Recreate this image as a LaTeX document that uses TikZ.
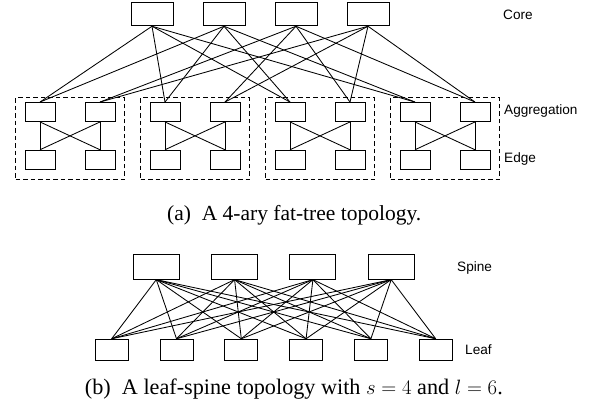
\documentclass[tikz,border=0pt]{standalone}
\usepackage[no-math]{fontspec}
\setmainfont{Liberation Serif}
\setsansfont{Liberation Sans}
\begin{document}
\begin{tikzpicture}[x=1pt,y=-1pt,
  sw/.style={draw,line width=0.9pt,inner sep=0pt,fill=white},
  corebox/.style={sw,minimum width=42pt,minimum height=23pt},
  podbox/.style={sw,minimum width=30pt,minimum height=19pt},
  spinebox/.style={sw,minimum width=46pt,minimum height=25pt},
  leafbox/.style={sw,minimum width=33pt,minimum height=21pt},
  podframe/.style={draw,line width=1pt,dash pattern=on 4.5pt off 3pt,inner sep=0pt,
    minimum width=109pt,minimum height=81.6pt},
  link/.style={line width=0.85pt},
  layer/.style={font=\sffamily\fontsize{13.6}{16}\selectfont,inner sep=0pt,anchor=base west},
  captext/.style={inner sep=0pt,anchor=base}]
\useasboundingbox (0,0) rectangle (595,406);

% ---- fat-tree ----
\foreach \p in {0,...,3}{
  \node[podframe] (pod\p) at ({70+125*\p},138.5) {};
}
\foreach \c in {0,...,3}{
  \node[corebox] (core\c) at ({152+72*\c},14.3) {};
}
\foreach \p in {0,...,3}{
  \foreach \a in {0,1}{
    \node[podbox] (agg\p\a) at ({40+125*\p+60*\a},112) {};
    \node[podbox] (edge\p\a) at ({40+125*\p+60*\a},159.7) {};
  }
}
% core to aggregation links
\foreach \c/\a in {0/0,1/0,2/1,3/1}{
  \foreach \p in {0,...,3}{
    \draw[link] (core\c.south) -- (agg\p\a.north);
  }
}
% aggregation to edge links inside each pod
\foreach \p in {0,...,3}{
  \foreach \a in {0,1}{
    \foreach \e in {0,1}{
      \draw[link] (agg\p\a.south) -- (edge\p\e.north);
    }
  }
}

\node[layer] (lcore) at (503,20) {Core};
\node[layer] (lagg) at (504,114.5) {Aggregation};
\node[layer] (ledge) at (504,163) {Edge};
\node[captext,font=\fontsize{21.5}{26}\selectfont] (capa) at (294.2,220.5)
  {(a)\enspace A 4-ary fat-tree topology.};

% ---- leaf-spine ----
\foreach \s in {0,...,3}{
  \node[spinebox] (spine\s) at ({156.3+78.3*\s},266.7) {};
}
\foreach \l in {0,...,5}{
  \node[leafbox] (leaf\l) at ({111.7+64.8*\l},349.7) {};
}
\foreach \s in {0,...,3}{
  \foreach \l in {0,...,5}{
    \draw[link] (spine\s.south) -- (leaf\l.north);
  }
}
\node[layer] (lspine) at (457,271.5) {Spine};
\node[layer] (lleaf) at (465,355) {Leaf};
\node[captext,font=\fontsize{22.2}{26}\selectfont] (capb) at (293.9,394.5)
  {(b)\enspace A leaf-spine topology with $s=4$ and $l=6$.};
\end{tikzpicture}
\end{document}
